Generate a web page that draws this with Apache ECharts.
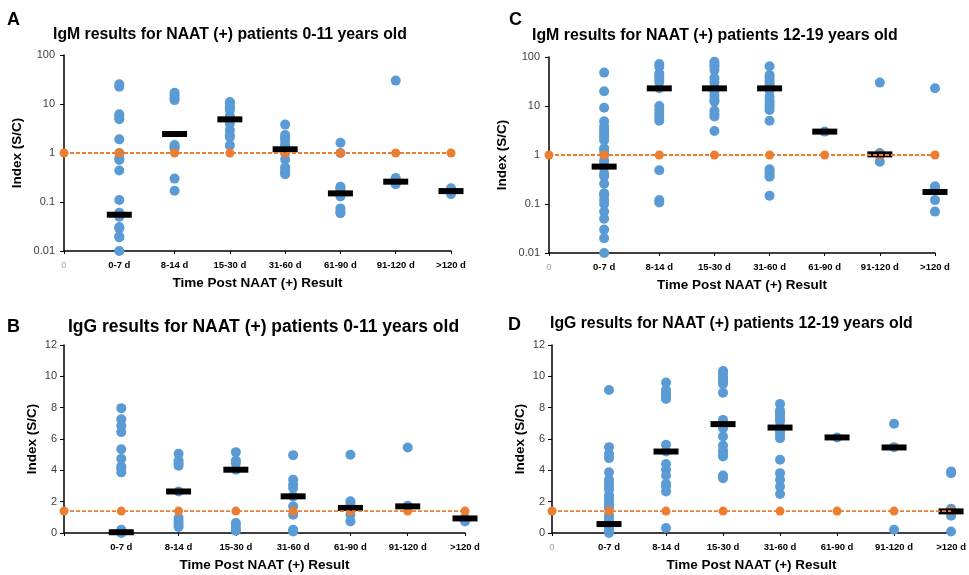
<!DOCTYPE html>
<html lang="en">
<head>
<meta charset="UTF-8">
<title>IgM / IgG results</title>
<script src="https://cdn.jsdelivr.net/npm/echarts@6/dist/echarts.min.js"></script>
<style>
  html, body { margin: 0; padding: 0; background: #fff; }
  #main { width: 969px; height: 575px; }
</style>
</head>
<body>
<div id="main"></div>
<script>
// categories on the x axis (positions 1..7)
var categories = ['0-7 d', '8-14 d', '15-30 d', '31-60 d', '61-90 d', '91-120 d', '>120 d'];

// A: IgM, 0-11 years (log scale)
var igmYoung = [
  [25.2, 22.6, 6.2, 5.5, 4.9, 1.9, 1.0, 0.78, 0.72, 0.44, 0.11, 0.06, 0.05, 0.031, 0.029, 0.02, 0.019, 0.01],
  [17, 15, 13, 12, 1.45, 1.35, 1.25, 0.30, 0.17],
  [11, 10.3, 9.2, 8.2, 7.5, 5.7, 4.9, 4.0, 2.95, 2.3, 2.1, 1.43],
  [3.8, 2.33, 2.1, 1.84, 1.53, 1.35, 1.0, 0.74, 0.51, 0.45, 0.4, 0.37],
  [1.62, 1.0, 0.205, 0.19, 0.17, 0.13, 0.074, 0.064, 0.059],
  [30, 0.31, 0.28, 0.23],
  [0.19, 0.16, 0.145]
];
var igmYoungMedian = [0.055, 2.44, 4.86, 1.19, 0.15, 0.26, 0.167];

// C: IgM, 12-19 years (log scale)
var igmTeen = [
  [48, 20, 9.2, 4.9, 3.8, 3.3, 3.0, 2.6, 2.3, 2.0, 1.37, 1.23, 1.0, 0.77, 0.66, 0.55, 0.42, 0.37, 0.26, 0.165, 0.15, 0.12, 0.1, 0.07, 0.05, 0.03, 0.02, 0.01],
  [72, 63, 46, 41, 36, 31, 23, 10, 8.3, 6.9, 5.8, 5.0, 0.49, 0.12, 0.107],
  [80, 72, 65, 54, 37, 30, 23, 19.6, 16, 13.3, 12.3, 8.0, 6.9, 6.1, 3.1],
  [65, 43, 38, 33, 29, 26, 23, 20.6, 15.5, 12.3, 11, 9.7, 8.3, 5.0, 0.51, 0.46, 0.39, 0.36, 0.148],
  [3.0],
  [30, 1.1, 1.0, 0.73],
  [23, 0.23, 0.2, 0.12, 0.07]
];
var igmTeenMedian = [0.58, 22.9, 22.9, 22.9, 3.0, 1.03, 0.176];

// B: IgG, 0-11 years
var iggYoung = [
  [7.97, 7.26, 6.84, 6.44, 5.35, 4.74, 4.25, 4.14, 3.87, 0.21, 0.04, 0.0],
  [5.06, 4.63, 4.46, 4.29, 2.65, 0.96, 0.74, 0.53, 0.38],
  [5.16, 4.63, 4.46, 4.04, 0.64, 0.47, 0.25, 0.15],
  [4.97, 3.4, 3.08, 2.87, 2.34, 1.7, 1.17, 0.21, 0.1],
  [4.99, 2.02, 1.85, 1.6, 1.17, 0.74],
  [5.46, 1.74],
  [0.96, 0.74]
];
var iggYoungMedian = [0.05, 2.65, 4.04, 2.34, 1.6, 1.7, 0.93];

// D: IgG, 12-19 years
var iggTeen = [
  [9.13, 5.48, 5.06, 4.78, 3.87, 3.4, 3.19, 2.97, 2.76, 2.4, 2.23, 2.02, 1.8, 1.59, 1.17, 0.96, 0.74, 0.53, 0.32, 0.15, 0.0],
  [9.6, 9.13, 8.92, 8.75, 8.56, 5.63, 5.2, 4.4, 4.04, 3.67, 3.14, 2.97, 2.65, 0.32],
  [10.34, 10.2, 9.98, 9.81, 9.66, 9.52, 8.96, 7.22, 6.95, 6.69, 6.16, 5.59, 5.27, 5.06, 4.89, 3.67, 3.5],
  [8.24, 7.82, 7.65, 7.48, 7.29, 7.12, 6.73, 6.48, 6.27, 6.05, 4.67, 3.82, 3.4, 2.97, 2.49],
  [6.1],
  [6.97, 5.48, 0.21],
  [3.93, 3.82, 1.55, 1.1, 0.1]
];
var iggTeenMedian = [0.57, 5.2, 6.95, 6.73, 6.1, 5.46, 1.38];

// assay cut-offs, drawn at x = 0..7
var cutoffX = [0, 1, 2, 3, 4, 5, 6, 7];
var igmCutoff = 1;
var iggCutoff = 1.4;

var font = 'Liberation Sans, Arial, sans-serif';
var blue = '#5B9BD5';
var orange = '#ED7D31';

var myChart = echarts.init(document.getElementById('main'));

var grids = [], xAxes = [], yAxes = [], series = [], titles = [];

function addPanel(p) {
  var i = grids.length;
  grids.push(p.grid);

  xAxes.push({
    gridIndex: i,
    type: 'value',
    min: 0,
    max: 7,
    interval: 1,
    name: 'Time Post NAAT (+) Result',
    nameLocation: 'middle',
    nameGap: 25,
    nameTextStyle: { fontFamily: font, fontWeight: 'bold', fontSize: 13.5, color: '#000' },
    splitLine: { show: false },
    axisLine: { onZero: false, lineStyle: { color: '#000', width: 1.5 } },
    axisTick: { length: 3, lineStyle: { color: '#000' } },
    axisLabel: {
      margin: 9,
      formatter: function (v) {
        if (v === 0) return p.showZero ? '{g|0}' : '';
        return categories[v - 1] || '';
      },
      fontFamily: font, fontWeight: 'bold', fontSize: 9.5, color: '#000',
      rich: { g: { color: '#a6a6a6', fontFamily: font, fontSize: 9.5, fontWeight: 'normal' } }
    }
  });

  var y = {
    gridIndex: i,
    name: 'Index (S/C)',
    nameLocation: 'middle',
    nameGap: p.yNameGap,
    nameRotate: 90,
    nameTextStyle: { fontFamily: font, fontWeight: 'bold', fontSize: 13.5, color: '#000' },
    splitLine: { show: false },
    axisLine: { show: true, lineStyle: { color: '#000', width: 1.5 } },
    axisTick: { show: true, length: 4, lineStyle: { color: '#000' } },
    axisLabel: { fontFamily: font, fontSize: 11, color: '#404040', margin: p.log ? 9 : 7 }
  };
  if (p.log) {
    y.type = 'log';
    y.logBase = 10;
    y.min = 0.01;
    y.max = 100;
    y.axisLabel.formatter = function (v) {
      var e = Math.round(Math.log(v) / Math.LN10);
      return e >= 0 ? String(Math.pow(10, e)) : Math.pow(10, e).toFixed(-e);
    };
  } else {
    y.type = 'value';
    y.min = 0;
    y.max = 12;
    y.interval = 2;
  }
  yAxes.push(y);

  var pts = [];
  p.values.forEach(function (list, c) {
    list.forEach(function (v) { pts.push([c + 1, v]); });
  });
  var med = p.median.map(function (v, c) { return [c + 1, v]; });
  var cut = cutoffX.map(function (x) { return [x, p.cutoff]; });

  series.push({
    type: 'scatter', xAxisIndex: i, yAxisIndex: i, data: pts,
    symbolSize: 10, itemStyle: { color: blue, opacity: 1 }, z: 2, silent: true, clip: false
  });
  series.push({
    type: 'scatter', xAxisIndex: i, yAxisIndex: i, data: cut,
    symbolSize: 9, itemStyle: { color: orange, opacity: 1 }, z: 3, silent: true, clip: false
  });
  series.push({
    type: 'scatter', xAxisIndex: i, yAxisIndex: i, data: med,
    symbol: 'rect', symbolSize: [25, 6], itemStyle: { color: '#000', opacity: 1 }, z: 4, silent: true, clip: false
  });
  series.push({
    type: 'line', xAxisIndex: i, yAxisIndex: i, data: cut,
    symbol: 'none', lineStyle: { color: orange, width: 1.8, type: [4, 2] }, z: 5, silent: true, clip: false
  });

  titles.push({
    text: p.letter, left: p.letterPos[0], top: p.letterPos[1], padding: 0,
    textStyle: { fontFamily: font, fontWeight: 'bold', fontSize: 18, color: '#000' }
  });
  titles.push({
    text: p.title, left: p.titlePos[0], top: p.titlePos[1], padding: 0,
    textStyle: { fontFamily: font, fontWeight: 'bold', fontSize: p.titleSize, color: '#000' }
  });
}

addPanel({
  letter: 'A', letterPos: [7, 11], title: 'IgM results for NAAT (+) patients 0-11 years old',
  titlePos: [53, 27], titleSize: 15.8,
  grid: { left: 64, top: 55, width: 387, height: 196 },
  showZero: true, log: true, yNameGap: 40,
  values: igmYoung, median: igmYoungMedian, cutoff: igmCutoff
});
addPanel({
  letter: 'C', letterPos: [509, 11], title: 'IgM results for NAAT (+) patients 12-19 years old',
  titlePos: [532, 28], titleSize: 15.9,
  grid: { left: 549, top: 57, width: 386, height: 196 },
  showZero: true, log: true, yNameGap: 40,
  values: igmTeen, median: igmTeenMedian, cutoff: igmCutoff
});
addPanel({
  letter: 'B', letterPos: [7, 318], title: 'IgG results for NAAT (+) patients 0-11 years old',
  titlePos: [68, 318], titleSize: 17.5,
  grid: { left: 64, top: 345, width: 401, height: 188 },
  showZero: false, log: false, yNameGap: 25,
  values: iggYoung, median: iggYoungMedian, cutoff: iggCutoff
});
addPanel({
  letter: 'D', letterPos: [508, 316], title: 'IgG results for NAAT (+) patients 12-19 years old',
  titlePos: [550, 316], titleSize: 15.8,
  grid: { left: 552, top: 345, width: 400, height: 188 },
  showZero: true, log: false, yNameGap: 25,
  values: iggTeen, median: iggTeenMedian, cutoff: iggCutoff
});

myChart.setOption({
  backgroundColor: '#ffffff',
  animation: false,
  title: titles,
  grid: grids,
  xAxis: xAxes,
  yAxis: yAxes,
  series: series
});
</script>
</body>
</html>
